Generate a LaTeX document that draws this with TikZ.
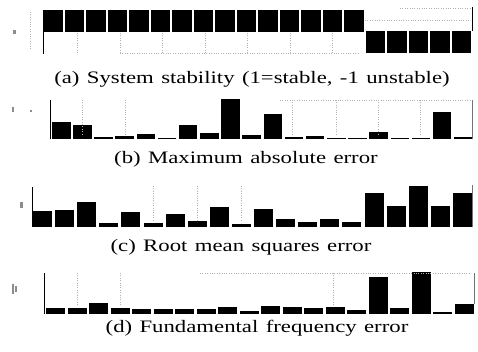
\documentclass[tikz,border=0pt]{standalone}
\usepackage{fontspec}
\newfontfamily\capfont[FakeStretch=1.3,WordSpace=1.3]{Liberation Serif}
\begin{document}
\begin{tikzpicture}[x=1pt,y=-1pt,
  bar/.style={fill=black,draw=none},
  axisline/.style={draw=black,line width=0.9pt},
  faintaxis/.style={draw=black!55,line width=0.5pt},
  grid/.style={draw=black!30,line width=0.4pt,dotted},
  speck/.style={fill=black!45,draw=none},
  caption/.style={anchor=base,inner sep=0pt,font=\capfont\fontsize{17.5}{20}\selectfont}]
\useasboundingbox (0,0) rectangle (478,351);
% ---------- (a) ----------
\foreach \i in {1,...,15}{
  \fill[bar] ({43+(\i-1)*21.5},10) rectangle ++(19.5,21.5);}
\foreach \i in {16,...,20}{
  \fill[bar] ({43+(\i-1)*21.5},31) rectangle ++(19.5,22);}
\draw[axisline] (43.5,10) -- (43.5,54);
\draw[axisline] (472.5,7) -- (472.5,31);
\foreach \xx in {77,120,162,205,247,290,332}{\draw[grid] (\xx,33) -- (\xx,53);}
\draw[grid] (120,53) -- (360,53);
\draw[grid] (365,20) -- (470,20);
\draw[grid] (400,8) -- (470,8);
\draw[grid] (30,12) -- (30,50);
\fill[speck] (13,30) rectangle ++(3,4);
\node[caption] (capa) at (252,83) {(a) System stability (1=stable, -1 unstable)};
% ---------- (b) ----------
\foreach \i/\t in {1/122,2/125,3/137,4/136,5/134,6/138,7/125,8/133,9/99,10/135,
                   11/114,12/137,13/136,14/137.5,15/137.5,16/132,17/138,18/138,19/112,20/137}{
  \fill[bar] ({52+(\i-1)*21.16},\t) rectangle ++(18.5,{139-\t});}
\draw[axisline] (50.5,100) -- (50.5,139);
\draw[faintaxis] (472,100) -- (472,139);
\foreach \xx in {82,125,292,336,378,420}{\draw[grid] (\xx,100) -- (\xx,136);}
\draw[grid] (280,100) -- (470,100);
\fill[speck] (12,107) rectangle ++(2,5);
\fill[speck] (30,110) rectangle ++(1.5,1.5);
\node[caption] (capb) at (246,163) {(b) Maximum absolute error};
% ---------- (c) ----------
\foreach \i/\t in {1/211,2/210,3/202,4/223,5/212,6/223,7/214,8/221,9/207,10/224,
                   11/209,12/219,13/222,14/219,15/222,16/193,17/206,18/186,19/206,20/193}{
  \fill[bar] ({33+(\i-1)*22.1},\t) rectangle ++(19,{227-\t});}
\draw[axisline] (32,187) -- (32,227);
\draw[faintaxis] (472,185) -- (472,227);
\foreach \xx in {153,197,241}{\draw[grid] (\xx,186) -- (\xx,222);}
\fill[speck] (20,202) rectangle ++(3,6);
\node[caption] (capc) at (241,251) {(c) Root mean squares error};
% ---------- (d) ----------
\foreach \i/\t in {1/308,2/308,3/303,4/308,5/309,6/309,7/309,8/309,9/307,10/311,
                   11/306,12/307,13/308,14/307,15/310,16/277,17/308,18/272,19/312,20/304}{
  \fill[bar] ({46+(\i-1)*21.5},\t) rectangle ++(19,{314-\t});}
\draw[axisline] (44.5,273) -- (44.5,314);
\draw[faintaxis] (474,273) -- (474,304);
\foreach \xx in {77,120,333}{\draw[grid] (\xx,273) -- (\xx,306);}
\draw[grid] (200,273) -- (470,273);
\fill[speck] (12,284) rectangle ++(2,10);
\fill[speck] (15,286) rectangle ++(2,6);
\node[caption] (capd) at (257,332) {(d) Fundamental frequency error};
\end{tikzpicture}
\end{document}
